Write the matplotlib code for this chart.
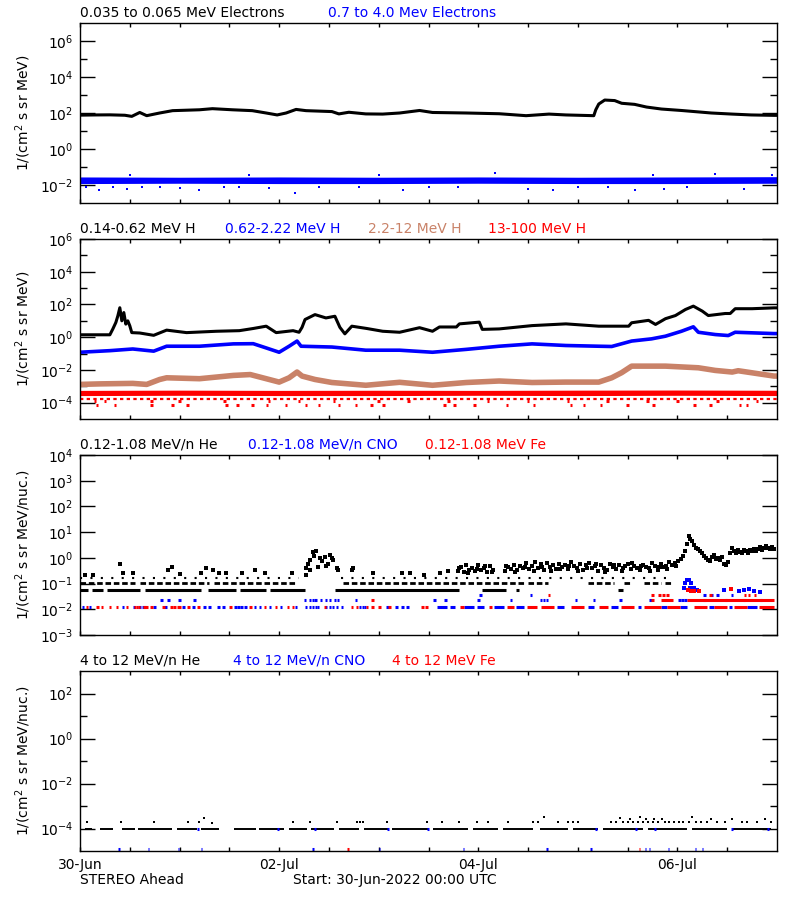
import numpy as np
import matplotlib.pyplot as plt
from matplotlib.ticker import NullFormatter

# colours used by the original plot
BLK = '#000000'
BLU = '#0000FF'
RED = '#FF0000'
BRN = '#C98268'

# ---------------- panel 1: electrons (time in days from 30-Jun 00:00)
e_low = [(0.00, 76), (0.15, 78), (0.30, 79), (0.45, 75), (0.52, 65), (0.60, 107), (0.67, 71),
         (0.80, 100), (0.93, 135), (1.20, 151), (1.33, 174), (1.53, 151), (1.73, 135),
         (1.87, 100), (1.98, 78), (2.07, 100), (2.17, 158), (2.27, 135), (2.53, 120),
         (2.60, 89), (2.70, 110), (2.87, 89), (3.04, 87), (3.21, 100), (3.41, 138),
         (3.54, 107), (3.88, 100), (4.21, 91), (4.48, 71), (4.71, 87), (4.88, 78),
         (5.16, 71), (5.18, 151), (5.21, 316), (5.27, 525), (5.37, 490), (5.44, 347),
         (5.57, 302), (5.69, 214), (5.84, 166), (6.04, 138), (6.34, 100), (6.55, 87),
         (6.74, 78), (6.97, 74), (7.00, 74)]
e_high_t = [0, 1, 2, 3, 4, 5, 6, 7]
e_high_top = [0.028, 0.027, 0.028, 0.027, 0.028, 0.027, 0.028, 0.029]
e_high_bot = [0.012, 0.0125, 0.012, 0.012, 0.0125, 0.012, 0.012, 0.0125]
e_high_out = [(0.06, 0.008), (0.19, 0.005), (0.33, 0.0075), (0.47, 0.006), (0.62, 0.008),
              (0.80, 0.0078), (1.00, 0.0072), (1.20, 0.005), (1.45, 0.0078), (1.60, 0.0075),
              (1.90, 0.0072), (2.16, 0.0036), (2.40, 0.0078), (2.80, 0.0075), (3.24, 0.005),
              (3.50, 0.0078), (3.80, 0.0075), (4.17, 0.047), (4.50, 0.006), (4.75, 0.005),
              (5.00, 0.0078), (5.30, 0.0075), (5.57, 0.005), (5.87, 0.006), (6.10, 0.0078),
              (6.38, 0.040), (6.67, 0.006), (6.95, 0.036), (0.50, 0.035), (1.70, 0.036),
              (3.00, 0.034), (5.75, 0.037)]

# ---------------- panel 2: protons
h1 = [(0.00, 1.4), (0.30, 1.4), (0.33, 3.2), (0.36, 7.9), (0.38, 20), (0.40, 63), (0.42, 10),
      (0.44, 32), (0.46, 6.3), (0.48, 10), (0.50, 5.0), (0.52, 1.9), (0.60, 1.8), (0.74, 1.3),
      (0.87, 2.7), (1.07, 1.9), (1.37, 2.3), (1.60, 2.5), (1.74, 3.4), (1.87, 4.7), (1.97, 1.9),
      (2.14, 2.5), (2.20, 2.0), (2.23, 4.0), (2.26, 12), (2.36, 24), (2.47, 15), (2.56, 19),
      (2.61, 4.0), (2.66, 1.6), (2.73, 4.7), (2.88, 3.4), (3.04, 2.3), (3.21, 2.0), (3.41, 3.8),
      (3.54, 2.3), (3.61, 4.2), (3.78, 4.2), (3.81, 6.5), (4.01, 8.3), (4.04, 3.0), (4.21, 3.2),
      (4.54, 5.1), (4.88, 6.5), (5.21, 4.7), (5.51, 4.7), (5.54, 7.6), (5.71, 10.7), (5.78, 6.0),
      (5.88, 13.5), (5.98, 21), (6.08, 49), (6.16, 79), (6.25, 39), (6.31, 21), (6.48, 28),
      (6.53, 28), (6.58, 55), (6.75, 55), (6.97, 62), (7.00, 62)]
h2 = [(0.00, 0.12), (0.30, 0.15), (0.53, 0.19), (0.74, 0.14), (0.87, 0.28), (1.20, 0.28),
      (1.54, 0.39), (1.74, 0.40), (1.87, 0.22), (2.00, 0.12), (2.10, 0.28), (2.18, 0.58),
      (2.22, 0.28), (2.53, 0.25), (2.87, 0.16), (3.21, 0.16), (3.54, 0.12), (3.88, 0.18),
      (4.21, 0.28), (4.54, 0.39), (4.88, 0.31), (5.21, 0.28), (5.34, 0.27), (5.54, 0.58),
      (5.74, 0.79), (5.88, 1.15), (6.04, 2.3), (6.16, 4.3), (6.21, 2.0), (6.38, 1.45),
      (6.51, 1.26), (6.58, 2.0), (6.97, 1.66), (7.00, 1.66)]
h3 = [(0.00, 1.3e-3), (0.20, 1.4e-3), (0.53, 1.5e-3), (0.67, 1.3e-3), (0.80, 2.6e-3),
      (0.87, 3.3e-3), (1.20, 2.9e-3), (1.54, 4.6e-3), (1.71, 5.2e-3), (1.87, 2.9e-3),
      (2.00, 1.8e-3), (2.10, 3.3e-3), (2.18, 7.4e-3), (2.23, 4.2e-3), (2.36, 2.6e-3),
      (2.53, 1.7e-3), (2.87, 1.15e-3), (3.21, 1.75e-3), (3.54, 1.15e-3), (3.88, 1.7e-3),
      (4.21, 2.1e-3), (4.54, 1.7e-3), (4.88, 1.8e-3), (5.21, 1.8e-3), (5.34, 3.3e-3),
      (5.44, 6.8e-3), (5.54, 1.7e-2), (5.88, 1.7e-2), (6.21, 1.35e-2), (6.38, 9.3e-3),
      (6.55, 7.4e-3), (6.61, 8.9e-3), (6.97, 4.2e-3), (7.00, 4.2e-3)]
h4_t = [0, 1, 2, 3, 4, 5, 6, 7]
h4_top = [5.6e-4, 5.8e-4, 5.6e-4, 5.7e-4, 5.6e-4, 5.8e-4, 5.9e-4, 5.7e-4]
h4_bot = [2.7e-4, 2.8e-4, 2.7e-4, 2.7e-4, 2.8e-4, 2.7e-4, 2.8e-4, 2.7e-4]
h4_row_a = 1.75e-4
h4_row_b_t = [0.15, 0.25, 0.72, 1.00, 1.45, 1.90, 2.20, 2.55, 3.00, 3.30, 3.70, 4.10,
              4.50, 4.90, 5.30, 5.70, 6.00, 6.40, 6.80]
h4_row_b = 1.2e-4
h4_row_c_t = [0.17, 0.35, 0.72, 0.93, 1.08, 1.47, 1.58, 1.73, 1.88, 2.07, 2.27, 2.40, 2.60,
              2.77, 2.93, 3.05, 3.66, 3.76, 3.96, 4.29, 4.56, 4.93, 5.06, 5.23, 5.50, 5.76,
              6.17, 6.33, 6.63, 6.70]
h4_row_c = 7e-5

# ---------------- panel 3: 0.12-1.08 MeV/n ions
he_lvl1 = 0.054
he_seg1 = [(0.00, 0.08), (0.12, 0.23), (0.27, 0.60), (0.65, 1.22), (1.29, 1.57), (1.61, 1.87),
           (1.91, 2.26), (2.56, 3.81), (4.04, 4.28), (4.38, 4.41), (5.40, 5.45)]
he_lvl2 = 0.105
he_seg2 = [(0.00, 0.55), (0.60, 1.30), (1.35, 2.17), (2.64, 4.46), (4.50, 4.70), (5.10, 5.36),
           (5.46, 5.53), (5.66, 5.83), (5.88, 5.96)]
he_lvl3 = 0.165
he_seg3 = [(0.00, 2.20), (2.62, 5.95)]
he_pts = [(0.40, 0.60), (0.92, 0.43), (0.43, 0.26), (0.53, 0.26), (0.05, 0.21), (0.13, 0.21),
          (0.88, 0.33), (1.00, 0.23), (1.27, 0.39), (1.34, 0.33), (1.22, 0.26), (1.40, 0.26),
          (1.47, 0.26), (1.63, 0.26), (1.76, 0.34), (1.86, 0.26), (2.13, 0.26),
          (2.27, 0.40), (2.31, 0.85), (2.34, 1.70), (2.37, 1.80), (2.41, 1.00), (2.46, 1.05),
          (2.51, 1.35), (2.54, 0.85), (2.58, 0.40), (2.31, 0.33), (2.39, 0.46), (2.49, 0.60),
          (2.27, 0.22), (2.59, 0.33), (2.74, 0.40), (2.73, 0.33), (2.94, 0.26), (3.23, 0.26),
          (3.31, 0.26), (2.29, 0.60), (2.35, 1.20), (2.43, 0.75), (2.47, 0.50), (2.53, 1.00),
          (3.45, 0.22), (3.62, 0.26), (3.70, 0.30)]
he_cloud = [(3.80, 0.30), (3.83, 0.45), (3.86, 0.28), (3.88, 0.52), (3.91, 0.35), (3.94, 0.40),
            (3.97, 0.30), (4.00, 0.55), (4.03, 0.33), (4.06, 0.42), (4.09, 0.28), (4.12, 0.48),
            (4.15, 0.35), (4.27, 0.30), (4.30, 0.45), (4.33, 0.38), (4.36, 0.55), (4.39, 0.33),
            (4.42, 0.48), (4.45, 0.40), (4.48, 0.62), (4.51, 0.37), (4.54, 0.50), (4.57, 0.70),
            (4.60, 0.42), (4.63, 0.58), (4.66, 0.35), (4.69, 0.65), (4.72, 0.45), (4.75, 0.52),
            (4.78, 0.38), (4.81, 0.60), (4.84, 0.44), (4.87, 0.55), (4.90, 0.36), (4.93, 0.68),
            (4.96, 0.47), (4.99, 0.40), (5.02, 0.58), (5.05, 0.33), (5.08, 0.52), (5.11, 0.62),
            (5.14, 0.40), (5.17, 0.48), (5.20, 0.30), (5.23, 0.55), (5.26, 0.42), (5.29, 0.35),
            (5.32, 0.60), (5.35, 0.45), (5.38, 0.38), (5.41, 0.52), (5.44, 0.30), (5.47, 0.47),
            (5.50, 0.58), (5.53, 0.36), (5.56, 0.50), (5.59, 0.42), (5.62, 0.33), (5.65, 0.55),
            (5.68, 0.45), (5.71, 0.40), (5.74, 0.62), (5.77, 0.48), (5.80, 0.35), (5.83, 0.58),
            (5.86, 0.44), (5.89, 0.50), (5.92, 0.66), (5.95, 0.55), (5.98, 0.62), (6.01, 0.75),
            (6.04, 0.90), (6.06, 1.20), (6.08, 1.80),
            (3.81, 0.40), (3.90, 0.25), (3.99, 0.36), (4.07, 0.50), (4.14, 0.27), (4.28, 0.50),
            (4.37, 0.28), (4.47, 0.45), (4.56, 0.32), (4.64, 0.46), (4.73, 0.30), (4.82, 0.36),
            (4.91, 0.50), (5.00, 0.30), (5.09, 0.40), (5.18, 0.60), (5.27, 0.28), (5.36, 0.52),
            (5.45, 0.40), (5.54, 0.62), (5.63, 0.48), (5.72, 0.30), (5.81, 0.46), (5.90, 0.38),
            (5.99, 0.48)]
he_event = [(6.10, 3.5), (6.12, 7.0), (6.13, 5.5), (6.15, 4.5), (6.17, 3.2), (6.19, 2.5),
            (6.21, 2.2), (6.23, 1.8), (6.25, 1.5), (6.27, 1.2), (6.29, 1.0), (6.31, 0.85),
            (6.33, 0.74), (6.35, 1.1), (6.37, 1.3), (6.39, 0.9), (6.41, 1.0), (6.43, 0.8),
            (6.45, 1.1), (6.47, 0.6), (6.49, 0.55), (6.51, 0.7), (6.53, 1.6), (6.55, 2.5),
            (6.57, 1.9), (6.59, 1.6), (6.61, 2.0), (6.63, 1.7), (6.65, 1.5), (6.67, 2.0),
            (6.69, 1.8), (6.71, 1.6), (6.73, 2.1), (6.75, 1.8), (6.77, 2.3), (6.79, 1.9),
            (6.81, 2.2), (6.83, 2.6), (6.85, 2.0), (6.87, 2.4), (6.89, 2.9), (6.91, 2.5),
            (6.93, 2.2), (6.95, 2.6), (6.97, 2.3)]

ion_lvl1 = 0.0118
ion_lvl2 = 0.024
ion_lvl3 = 0.037
cno_pts1 = [0.03, 0.10, 0.43, 0.54, 0.60, 0.64, 0.75, 0.86, 1.04, 1.14, 1.25, 1.30, 1.39, 1.44,
            1.56, 1.59, 1.62, 1.66, 1.76, 1.81, 1.91, 2.02, 2.17, 2.27, 2.31, 2.34, 2.37, 2.39,
            2.47, 2.51, 2.54, 2.58, 2.63, 2.81, 2.84, 2.86, 3.09, 3.18, 3.24, 3.29]
fe_pts1 = [0.07, 0.17, 0.18, 0.22, 0.30, 0.37, 0.47, 0.55, 0.57, 0.59, 0.65, 0.67, 0.72, 0.84,
           0.92, 0.95, 0.99, 1.00, 1.09, 1.19, 1.51, 1.71, 1.86, 1.97, 2.09, 2.14, 2.46, 2.73,
           2.78, 2.88, 2.94, 3.01, 3.11, 3.44, 3.48]
cno_seg1 = [(3.59, 3.69), (3.72, 3.77), (3.86, 3.96), (3.99, 4.06), (4.16, 4.26), (4.38, 4.46),
            (4.79, 4.86), (5.10, 5.16), (5.33, 5.40), (5.60, 5.63), (5.83, 5.90), (6.03, 6.10),
            (6.32, 6.37), (6.52, 6.55), (6.70, 6.80)]
fe_seg1 = [(3.82, 3.86), (4.11, 4.14), (4.29, 4.36), (4.49, 4.59), (4.63, 4.76), (4.93, 5.06),
           (5.21, 5.30), (5.43, 5.56), (5.66, 5.83), (5.90, 6.03), (6.17, 6.30), (6.37, 6.50),
           (6.57, 6.70), (6.82, 6.97)]
cno_pts2 = [0.82, 0.89, 1.00, 1.15, 2.26, 2.31, 2.34, 2.36, 2.37, 2.42, 2.47, 2.51, 2.56, 2.59,
            2.77, 3.56, 3.67, 4.00, 4.33, 4.63, 4.66, 4.69, 4.98, 5.16, 5.43, 5.73, 6.02, 6.05,
            6.08, 6.27, 6.49, 6.67, 6.84]
fe_pts2 = [2.94, 5.75]
fe_seg2 = [(5.83, 5.96), (6.10, 6.97)]
cno_pts3 = [4.02, 4.53, 6.27, 6.34, 6.40, 6.55]
fe_pts3 = [4.71, 5.75, 5.82, 5.86, 5.90, 6.33, 6.68, 6.72, 6.78]
cno_peak = [(6.10, 0.14), (6.12, 0.14), (6.08, 0.105), (6.14, 0.105), (6.07, 0.07), (6.13, 0.065),
            (6.17, 0.07), (6.20, 0.055), (6.47, 0.055), (6.62, 0.05), (6.67, 0.055), (6.72, 0.06),
            (6.77, 0.05), (6.83, 0.045)]
fe_peak = [(6.11, 0.055), (6.14, 0.05), (6.17, 0.05), (6.22, 0.05), (6.54, 0.06)]

# ---------------- panel 4: 4-12 MeV/n ions
he4_lvl = 1e-4
he4_seg = [(0.05, 0.12), (0.20, 0.33), (0.42, 0.55), (0.58, 0.92), (0.97, 1.18), (1.22, 1.40),
           (1.55, 1.77), (1.80, 2.05), (2.10, 2.28), (2.32, 2.55), (2.60, 2.80), (2.85, 3.10),
           (3.13, 3.50), (3.55, 3.90), (3.95, 4.20), (4.25, 4.55), (4.62, 4.90), (4.95, 5.20),
           (5.25, 5.65), (5.70, 6.10), (6.15, 6.50), (6.55, 6.94)]
he4_pts = [(0.07, 1.9e-4), (0.41, 1.9e-4), (0.74, 1.9e-4), (1.08, 1.9e-4), (1.20, 1.9e-4),
           (1.25, 3.0e-4), (1.33, 1.8e-4), (2.14, 1.9e-4), (2.31, 1.9e-4), (2.58, 1.9e-4),
           (2.78, 1.9e-4), (2.81, 1.9e-4), (2.84, 1.9e-4), (3.08, 1.9e-4), (3.48, 1.9e-4),
           (3.64, 1.9e-4), (3.81, 1.9e-4), (3.99, 1.9e-4), (4.10, 1.9e-4), (4.30, 1.9e-4),
           (4.55, 1.9e-4), (4.60, 1.9e-4), (4.66, 3.2e-4), (4.80, 1.9e-4), (4.90, 1.9e-4),
           (4.95, 1.9e-4), (5.00, 1.9e-4), (5.33, 1.9e-4), (5.38, 1.9e-4), (5.42, 3.0e-4),
           (5.45, 1.9e-4), (5.50, 1.9e-4), (5.52, 2.6e-4), (5.55, 1.9e-4), (5.60, 1.9e-4),
           (5.62, 3.3e-4), (5.65, 1.9e-4), (5.68, 2.6e-4), (5.70, 1.9e-4), (5.75, 1.9e-4),
           (5.76, 2.6e-4), (5.80, 1.9e-4), (5.85, 2.6e-4), (5.88, 1.9e-4), (5.92, 1.9e-4),
           (5.97, 1.9e-4), (6.02, 1.9e-4), (6.06, 1.9e-4), (6.15, 3.1e-4), (6.12, 1.9e-4),
           (6.19, 1.9e-4), (6.24, 1.9e-4), (6.30, 1.9e-4), (6.34, 2.6e-4), (6.40, 1.9e-4),
           (6.48, 1.9e-4), (6.55, 2.6e-4), (6.65, 1.9e-4), (6.70, 1.9e-4), (6.80, 1.9e-4),
           (6.88, 2.6e-4), (6.94, 1.9e-4)]
cno4_low_t = [0.39, 0.69, 0.99, 1.22, 2.34, 3.01, 3.85, 4.69, 5.13, 5.68, 5.72, 5.91, 6.18, 6.25]
cno4_row_t = [1.19, 1.99, 2.36, 3.09, 3.49, 5.18, 5.58, 5.77, 6.55, 6.91]
fe4_low_t = [2.69, 5.62]
ion4_low = 1.2e-5

# ---------------- figure
fig = plt.figure(figsize=(8, 9), dpi=100)
plt.rcParams['font.family'] = 'DejaVu Sans'
FS = 10


def pixel_axes(top):
    # panels are 697x180 px starting at x=80
    return fig.add_axes([80 / 800, 1 - (top + 180) / 900, 697 / 800, 180 / 900])


def style(ax, ylim, major, labels, minor, ylabel, bottom=False):
    ax.set_yscale('log')
    ax.set_xlim(0, 7)
    ax.set_ylim(*ylim)
    ax.set_yticks(major)
    ax.set_yticklabels(labels)
    ax.set_yticks(minor, minor=True)
    ax.yaxis.set_minor_formatter(NullFormatter())
    ax.set_xticks([0, 2, 4, 6])
    ax.set_xticks([0.5, 1, 1.5, 2.5, 3, 3.5, 4.5, 5, 5.5, 6.5], minor=True)
    ax.tick_params(axis='y', which='major', direction='in', length=11, width=1,
                   left=True, right=True, labelsize=FS, pad=5)
    ax.tick_params(axis='y', which='minor', direction='in', length=5, width=1,
                   left=True, right=True)
    ax.tick_params(axis='x', which='both', direction='in', length=3, width=1,
                   top=True, bottom=True, labelsize=FS, pad=5)
    if bottom:
        ax.set_xticklabels(['30-Jun', '02-Jul', '04-Jul', '06-Jul'])
    else:
        ax.set_xticklabels([])
    for s in ax.spines.values():
        s.set_linewidth(1)
    ax.set_ylabel(ylabel, fontsize=FS)
    ax.yaxis.set_label_coords(-47 / 697, 0.5)


def titles(items, y):
    for x, txt, col in items:
        fig.text(x / 800, 1 - y / 900, txt, color=col, fontsize=FS, ha='left', va='center')


def tv(pairs):
    return [p[0] for p in pairs], [p[1] for p in pairs]


def dashes(ax, ts, level, color, width=0.025):
    ax.hlines([level] * len(ts), [t - width / 2 for t in ts], [t + width / 2 for t in ts],
              color=color, lw=2.2)


def segs(ax, seglist, level, color, **kw):
    ax.hlines([level] * len(seglist), [s[0] for s in seglist], [s[1] for s in seglist],
              color=color, lw=kw.pop('lw', 2.2), **kw)


# ---- panel 1
ax1 = pixel_axes(23)
ax1.fill_between(e_high_t, e_high_bot, e_high_top, color=BLU, lw=0)
x, y = tv(e_high_out)
ax1.plot(x, y, 's', color=BLU, ms=2, mew=0)
x, y = tv(e_low)
ax1.plot(x, y, '-', color=BLK, lw=2.2)
style(ax1, (1e-3, 1e7), [1e-2, 1, 1e2, 1e4, 1e6],
      [r'$10^{-2}$', r'$10^{0}$', r'$10^{2}$', r'$10^{4}$', r'$10^{6}$'],
      [1e-1, 1e1, 1e3, 1e5], r'1/(cm$^2$ s sr MeV)')
titles([(80, '0.035 to 0.065 MeV Electrons', BLK), (328, '0.7 to 4.0 Mev Electrons', BLU)], 13)

# ---- panel 2
ax2 = pixel_axes(239)
ax2.fill_between(h4_t, h4_bot, h4_top, color=RED, lw=0)
ax2.hlines(h4_row_a, 0, 7, color=RED, lw=1.6, linestyles=(0, (1.5, 1.5)))
dashes(ax2, h4_row_b_t, h4_row_b, RED)
dashes(ax2, h4_row_c_t, h4_row_c, RED)
x, y = tv(h3)
ax2.plot(x, y, '-', color=BRN, lw=4)
x, y = tv(h2)
ax2.plot(x, y, '-', color=BLU, lw=2.6)
x, y = tv(h1)
ax2.plot(x, y, '-', color=BLK, lw=2.2)
style(ax2, (1e-5, 1e6), [1e-4, 1e-2, 1, 1e2, 1e4, 1e6],
      [r'$10^{-4}$', r'$10^{-2}$', r'$10^{0}$', r'$10^{2}$', r'$10^{4}$', r'$10^{6}$'],
      [1e-3, 1e-1, 1e1, 1e3, 1e5], r'1/(cm$^2$ s sr MeV)')
titles([(80, '0.14-0.62 MeV H', BLK), (225, '0.62-2.22 MeV H', BLU),
        (368, '2.2-12 MeV H', BRN), (488, '13-100 MeV H', RED)], 229)

# ---- panel 3
ax3 = pixel_axes(455)
segs(ax3, he_seg1, he_lvl1, BLK)
segs(ax3, he_seg2, he_lvl2, BLK, lw=2, linestyles=(0, (2, 1)))
segs(ax3, he_seg3, he_lvl3, BLK, lw=1.5, linestyles=(0, (1, 4)))
for pts in (he_pts, he_cloud, he_event):
    x, y = tv(pts)
    ax3.plot(x, y, 's', color=BLK, ms=2.2, mew=0)
dashes(ax3, cno_pts1, ion_lvl1, BLU)
dashes(ax3, fe_pts1, ion_lvl1, RED)
segs(ax3, cno_seg1, ion_lvl1, BLU)
segs(ax3, fe_seg1, ion_lvl1, RED)
dashes(ax3, cno_pts2, ion_lvl2, BLU)
dashes(ax3, fe_pts2, ion_lvl2, RED)
segs(ax3, fe_seg2, ion_lvl2, RED)
dashes(ax3, cno_pts3, ion_lvl3, BLU)
dashes(ax3, fe_pts3, ion_lvl3, RED)
x, y = tv(cno_peak)
ax3.plot(x, y, 's', color=BLU, ms=2.6, mew=0)
x, y = tv(fe_peak)
ax3.plot(x, y, 's', color=RED, ms=2.6, mew=0)
style(ax3, (1e-3, 1e4), [1e-3, 1e-2, 1e-1, 1, 1e1, 1e2, 1e3, 1e4],
      [r'$10^{-3}$', r'$10^{-2}$', r'$10^{-1}$', r'$10^{0}$', r'$10^{1}$', r'$10^{2}$',
       r'$10^{3}$', r'$10^{4}$'],
      [], r'1/(cm$^2$ s sr MeV/nuc.)')
titles([(80, '0.12-1.08 MeV/n He', BLK), (248, '0.12-1.08 MeV/n CNO', BLU),
        (425, '0.12-1.08 MeV Fe', RED)], 445)

# ---- panel 4
ax4 = pixel_axes(671)
segs(ax4, he4_seg, he4_lvl, BLK, lw=1.4)
x, y = tv(he4_pts)
ax4.plot(x, y, 's', color=BLK, ms=2, mew=0)
dashes(ax4, cno4_row_t, he4_lvl, BLU, width=0.02)
dashes(ax4, cno4_low_t, ion4_low, BLU, width=0.015)
dashes(ax4, fe4_low_t, ion4_low, RED, width=0.015)
style(ax4, (1e-5, 1e3), [1e-4, 1e-2, 1, 1e2],
      [r'$10^{-4}$', r'$10^{-2}$', r'$10^{0}$', r'$10^{2}$'],
      [1e-3, 1e-1, 1e1], r'1/(cm$^2$ s sr MeV/nuc.)', bottom=True)
titles([(80, '4 to 12 MeV/n He', BLK), (233, '4 to 12 MeV/n CNO', BLU),
        (392, '4 to 12 MeV Fe', RED)], 661)

fig.text(80 / 800, 1 - 880 / 900, 'STEREO Ahead', fontsize=FS, ha='left', va='center')
fig.text(293 / 800, 1 - 880 / 900, 'Start: 30-Jun-2022 00:00 UTC', fontsize=FS,
         ha='left', va='center')

fig.savefig('out.png', dpi=100)
